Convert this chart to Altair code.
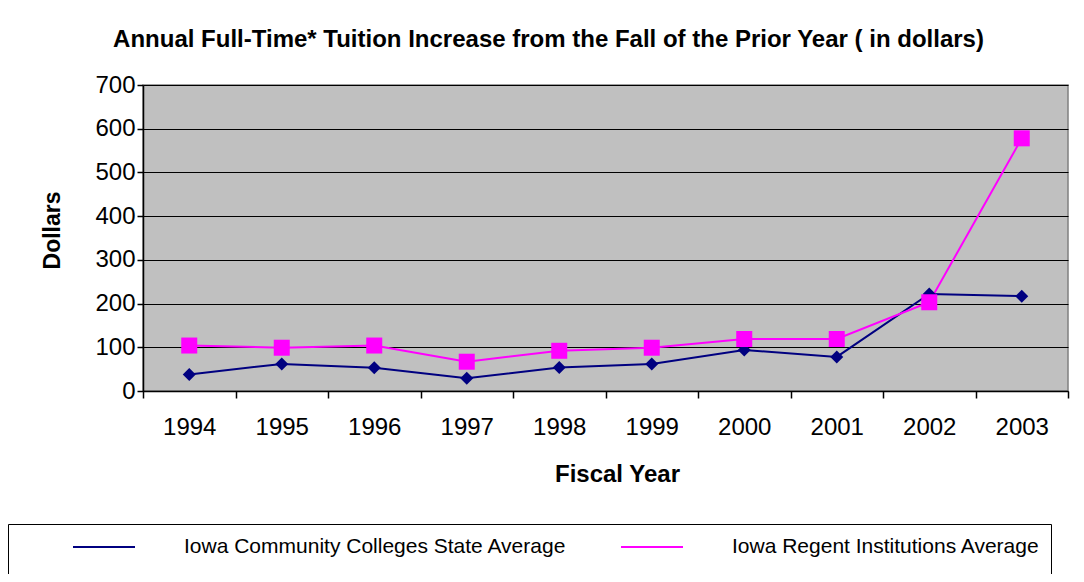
import altair as alt
import pandas as pd

years = ["1994", "1995", "1996", "1997", "1998", "1999", "2000", "2001", "2002", "2003"]
community = [38, 62, 53, 29, 54, 62, 94, 78, 222, 217]
regent = [104, 99, 104, 67, 92, 99, 119, 119, 203, 578]
series_names = ["Iowa Community Colleges State Average", "Iowa Regent Institutions Average"]
series_colors = ["#000080", "#FF00FF"]
series_shapes = ["diamond", "square"]
series_sizes = [169, 256]
y_ticks = [0, 100, 200, 300, 400, 500, 600, 700]

df = pd.DataFrame({
    "Fiscal Year": years * 2,
    "Dollars": community + regent,
    "Series": [series_names[0]] * len(years) + [series_names[1]] * len(years),
})

FONT = "Liberation Sans"
NBSP = "\u00a0" * 11

x = alt.X(
    "Fiscal Year:O",
    scale=alt.Scale(type="band", paddingInner=0, paddingOuter=0),
    axis=alt.Axis(
        title="Fiscal Year", tickBand="extent", labelAngle=0, grid=False,
        tickSize=7, labelPadding=17, labelFontSize=24, labelFont=FONT, labelColor="black",
        domainColor="black", tickColor="black", domainWidth=1.5, tickWidth=1.5,
        titleFont=FONT, titleFontSize=24, titleFontWeight="bold", titleColor="black",
        titleX=474, titleY=83, titleBaseline="middle", titleAlign="center",
    ),
)
y = alt.Y(
    "Dollars:Q",
    scale=alt.Scale(domain=[0, 700], nice=False),
    axis=alt.Axis(
        title="Dollars", values=y_ticks, grid=True, gridColor="black", gridWidth=1.2,
        tickSize=6, labelPadding=2, labelFontSize=24, labelFont=FONT, labelColor="black",
        domainColor="black", tickColor="black", domainWidth=1.5, tickWidth=1.5,
        titleFont=FONT, titleFontSize=23, titleFontWeight="bold", titleColor="black",
        titleX=-91, titleY=145, titleAngle=270, titleAlign="center", titleBaseline="middle",
    ),
)

legend_line = alt.Legend(
    title=" ", titleOrient="bottom", titleFontSize=30, titlePadding=0,
    orient="none", legendX=-135, legendY=439, direction="horizontal", columns=2,
    strokeColor="black", padding=11, symbolType="stroke", symbolSize=3844, symbolStrokeWidth=2,
    symbolOffset=53, labelOffset=48, columnPadding=-34, clipHeight=24,
    labelFont=FONT, labelFontSize=21, labelColor="black", labelLimit=700,
    labelExpr=f"datum.label == '{series_names[1]}' ? datum.label + '{NBSP}' : datum.label",
)
legend_marker = alt.Legend(
    title=None, orient="none", legendX=-135, legendY=444, direction="horizontal", columns=2,
    padding=11, symbolSize=200, symbolStrokeWidth=0, symbolOpacity=1,
    symbolOffset=77, labelOffset=72, columnPadding=-34,
    labelFont=FONT, labelFontSize=21, labelColor="black", labelOpacity=0, labelLimit=700,
)

lines = alt.Chart(df).mark_line(strokeWidth=2).encode(
    x=x, y=y,
    stroke=alt.Stroke("Series:N", scale=alt.Scale(domain=series_names, range=series_colors), legend=legend_line),
)

points = alt.Chart(df).mark_point(filled=True, opacity=1, strokeWidth=0).encode(
    x=x, y=y,
    fill=alt.Fill("Series:N", scale=alt.Scale(range=series_colors), legend=legend_marker),
    shape=alt.Shape("Series:N", scale=alt.Scale(range=series_shapes), legend=legend_marker),
    size=alt.Size("Series:N", scale=alt.Scale(range=series_sizes), legend=None),
)

chart = alt.layer(lines, points).properties(
    width=925, height=306,
    autosize=alt.AutoSizeParams(type="none"),
    padding={"left": 135, "top": 77, "right": 8, "bottom": 183},
    background="white",
    title=alt.TitleParams(
        "Annual Full-Time* Tuition Increase from the Fall of the Prior Year ( in dollars)",
        font=FONT, fontSize=24, fontWeight="bold", color="black",
        anchor="middle", frame="group", dx=-57, offset=2, baseline="alphabetic",
    ),
).configure_view(fill="#C0C0C0", stroke="#808080", strokeWidth=1.5)

chart.save("out.html", embed_options={"renderer": "svg", "actions": False})
